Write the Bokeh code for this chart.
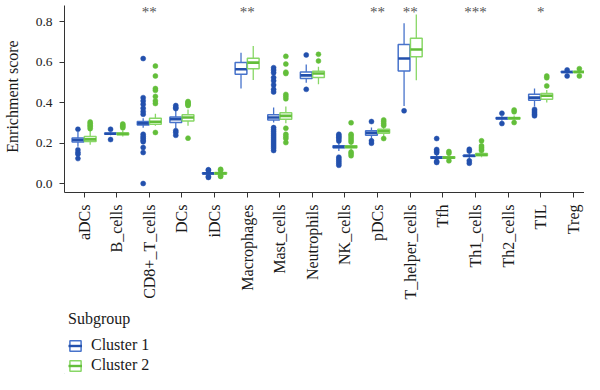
import math
from bokeh.plotting import figure
from bokeh.layouts import column
from bokeh.models import (Range1d, FixedTicker, PrintfTickFormatter, Legend,
                          LegendItem, ColumnDataSource)
from bokeh.core.properties import value
from bokeh.embed import file_html
from bokeh.resources import INLINE

# ---------------- data ----------------
categories = ["aDCs", "B_cells", "CD8+_T_cells", "DCs", "iDCs", "Macrophages",
              "Mast_cells", "Neutrophils", "NK_cells", "pDCs", "T_helper_cells",
              "Tfh", "Th1_cells", "Th2_cells", "TIL", "Treg"]
signif = ["", "", "**", "", "", "**", "", "", "", "**", "**", "", "***", "", "*", ""]
groups = ["Cluster 1", "Cluster 2"]

# Cluster 1
c1_lo  = [0.182, 0.238, 0.275, 0.270, 0.040, 0.469, 0.301, 0.498, 0.160, 0.219, 0.383, 0.115, 0.122, 0.310, 0.380, 0.545]
c1_q1  = [0.205, 0.243, 0.289, 0.301, 0.047, 0.539, 0.314, 0.518, 0.176, 0.238, 0.556, 0.125, 0.133, 0.318, 0.411, 0.548]
c1_med = [0.215, 0.246, 0.297, 0.318, 0.050, 0.564, 0.326, 0.534, 0.181, 0.250, 0.617, 0.128, 0.137, 0.322, 0.424, 0.551]
c1_q3  = [0.225, 0.250, 0.306, 0.329, 0.053, 0.597, 0.340, 0.551, 0.186, 0.260, 0.687, 0.132, 0.140, 0.326, 0.441, 0.553]
c1_hi  = [0.255, 0.255, 0.322, 0.360, 0.060, 0.646, 0.375, 0.588, 0.200, 0.276, 0.791, 0.142, 0.150, 0.335, 0.469, 0.556]
c1_out = [
    [0.268, 0.166, 0.153, 0.145, 0.123],
    [0.268, 0.217],
    [0.617, 0.424, 0.408, 0.391, 0.372, 0.355, 0.342, 0.243, 0.232, 0.224, 0.214, 0.206, 0.178, 0.153, 0.0],
    [0.385, 0.375, 0.370, 0.261, 0.252, 0.238],
    [0.068, 0.065, 0.035, 0.030],
    [],
    [0.572, 0.560, 0.547, 0.523, 0.507, 0.487, 0.465, 0.452, 0.276, 0.265, 0.255, 0.245, 0.235,
     0.225, 0.215, 0.205, 0.195, 0.185, 0.175, 0.163],
    [0.635, 0.465],
    [0.243, 0.235, 0.228, 0.220, 0.210, 0.130, 0.120, 0.110, 0.100, 0.090],
    [0.306, 0.211, 0.199],
    [0.359],
    [0.222, 0.168, 0.160, 0.152, 0.110, 0.104],
    [0.169, 0.160, 0.112, 0.100],
    [0.347, 0.296],
    [0.366, 0.358, 0.350, 0.342, 0.334],
    [0.561, 0.531],
]

# Cluster 2
c2_lo  = [0.192, 0.232, 0.285, 0.285, 0.042, 0.511, 0.297, 0.490, 0.160, 0.232, 0.510, 0.117, 0.130, 0.310, 0.400, 0.545]
c2_q1  = [0.207, 0.241, 0.293, 0.309, 0.047, 0.567, 0.317, 0.523, 0.176, 0.248, 0.626, 0.125, 0.137, 0.318, 0.416, 0.548]
c2_med = [0.218, 0.245, 0.305, 0.326, 0.050, 0.597, 0.334, 0.543, 0.181, 0.258, 0.662, 0.128, 0.142, 0.322, 0.433, 0.551]
c2_q3  = [0.232, 0.250, 0.322, 0.339, 0.054, 0.618, 0.349, 0.554, 0.186, 0.268, 0.717, 0.132, 0.148, 0.326, 0.445, 0.554]
c2_hi  = [0.260, 0.262, 0.345, 0.365, 0.062, 0.679, 0.380, 0.577, 0.200, 0.280, 0.835, 0.140, 0.155, 0.336, 0.462, 0.558]
c2_out = [
    [0.304, 0.296, 0.288, 0.280, 0.271],
    [0.294, 0.288, 0.281, 0.275],
    [0.580, 0.531, 0.469, 0.460, 0.430, 0.408, 0.395, 0.252],
    [0.405, 0.400, 0.395, 0.390, 0.385, 0.224],
    [0.070, 0.066, 0.038, 0.035],
    [],
    [0.628, 0.590, 0.550, 0.543, 0.440, 0.430, 0.418, 0.273, 0.243, 0.232, 0.222, 0.202],
    [0.638, 0.605],
    [0.300, 0.243, 0.235, 0.225, 0.215, 0.205, 0.155, 0.147, 0.137],
    [0.314, 0.305, 0.295, 0.287, 0.222],
    [],
    [0.158, 0.150, 0.112],
    [0.211, 0.186, 0.178, 0.170, 0.163],
    [0.363, 0.354, 0.301],
    [0.531, 0.522, 0.482],
    [0.567, 0.531],
]

y_ticks = [0.0, 0.2, 0.4, 0.6, 0.8]

# ---------------- style ----------------
FONT = "Liberation Serif"
BOX_W = 0.36
DODGE = 0.1875
STAR_Y = 0.848
BLUE_LINE, BLUE_DARK = "#4773CB", "#2350AD"
GREEN_LINE, GREEN_DARK = "#88D766", "#63BE3A"

p = figure(width=584, height=306, output_backend="svg", toolbar_location=None,
           x_range=Range1d(0.4, 16.345), y_range=Range1d(-0.0444, 0.9037),
           min_border_left=61, min_border_right=0, min_border_top=0,
           min_border_bottom=114)
p.outline_line_color = None
p.grid.visible = False
p.background_fill_color = "white"
p.border_fill_color = "white"


def draw(offset, lo, q1, med, q3, hi, outs, line_c, dark_c):
    xs = [i + 1 + offset for i in range(len(categories))]
    src = ColumnDataSource(dict(
        x=xs, xl=[x - BOX_W / 2 for x in xs], xr=[x + BOX_W / 2 for x in xs],
        lo=lo, q1=q1, med=med, q3=q3, hi=hi))
    p.segment(x0="x", y0="lo", x1="x", y1="q1", source=src,
              line_color=line_c, line_width=1.3)
    p.segment(x0="x", y0="q3", x1="x", y1="hi", source=src,
              line_color=line_c, line_width=1.3)
    p.vbar(x="x", width=BOX_W, bottom="q1", top="q3", source=src,
           fill_color="white", line_color=line_c, line_width=1.5)
    p.segment(x0="xl", y0="med", x1="xr", y1="med", source=src,
              line_color=dark_c, line_width=2.6)
    ox, oy = [], []
    for x, vals in zip(xs, outs):
        for v in vals:
            ox.append(x)
            oy.append(v)
    p.scatter(ox, oy, size=5, marker="circle", fill_color=dark_c,
              line_color=dark_c, line_width=0.5)


draw(-DODGE, c1_lo, c1_q1, c1_med, c1_q3, c1_hi, c1_out, BLUE_LINE, BLUE_DARK)
draw(DODGE, c2_lo, c2_q1, c2_med, c2_q3, c2_hi, c2_out, GREEN_LINE, GREEN_DARK)

# significance stars
p.text(x=[i + 1 for i in range(len(categories))], y=[STAR_Y] * len(categories),
       text=signif, text_font=value(FONT), text_font_size="15px",
       text_color="#555555", text_align="center", text_baseline="alphabetic")

# axes
xa = p.xaxis[0]
xa.ticker = FixedTicker(ticks=[i + 1 for i in range(len(categories))])
xa.major_label_overrides = {i + 1: c for i, c in enumerate(categories)}
xa.major_label_orientation = math.pi / 2
xa.major_label_text_font = FONT
xa.major_label_text_font_size = "16px"
xa.major_label_text_color = "#1a1a1a"
xa.major_label_standoff = 7
xa.minor_tick_line_color = None
xa.major_tick_in = 0
xa.major_tick_out = 5
xa.axis_line_color = "#333333"
xa.major_tick_line_color = "#333333"

ya = p.yaxis[0]
ya.ticker = FixedTicker(ticks=y_ticks)
ya.formatter = PrintfTickFormatter(format="%.1f")
ya.bounds = (-0.0444, 0.879)
ya.axis_label = "Enrichment score"
ya.axis_label_text_font = FONT
ya.axis_label_text_font_size = "16px"
ya.axis_label_text_font_style = "normal"
ya.axis_label_text_color = "#1a1a1a"
ya.axis_label_standoff = 12
ya.major_label_text_font = FONT
ya.major_label_text_font_size = "13.5px"
ya.major_label_text_color = "#222222"
ya.major_label_standoff = 7
ya.minor_tick_line_color = None
ya.major_tick_in = 0
ya.major_tick_out = 5
ya.axis_line_color = "#333333"
ya.major_tick_line_color = "#333333"

# ---------------- legend (separate strip below the plot) ----------------
q = figure(width=584, height=68, output_backend="svg", toolbar_location=None,
           x_axis_location=None, y_axis_location=None,
           x_range=Range1d(0, 1), y_range=Range1d(0, 1),
           min_border_left=0, min_border_right=0, min_border_top=0,
           min_border_bottom=0)
q.outline_line_color = None
q.grid.visible = False
q.border_fill_color = "white"
q.background_fill_color = "white"
items = []
for name, lc, dc in zip(groups, [BLUE_LINE, GREEN_LINE], [BLUE_DARK, GREEN_DARK]):
    # legend key proxies, kept outside the visible range of this strip
    rb = q.vbar(x=[-50], width=0.1, top=[-40], bottom=[-41], fill_color="white",
                line_color=lc, line_width=1.5)
    rm = q.segment(x0=[-50], y0=[-40], x1=[-49], y1=[-40], line_color=dc, line_width=2.4)
    items.append(LegendItem(label=name, renderers=[rb, rm]))

legend = Legend(
    items=items, title="Subgroup", location=(4, 0), orientation="vertical",
    title_text_font=FONT, title_text_font_size="16px", title_text_font_style="normal",
    title_text_color="#1a1a1a", title_standoff=8,
    label_text_font=FONT, label_text_font_size="16px", label_text_color="#1a1a1a",
    glyph_width=14, glyph_height=13, label_standoff=9, spacing=2,
    padding=0, margin=0, border_line_color=None, background_fill_alpha=0)
q.add_layout(legend)

layout = column(p, q, spacing=0)
open("out.html", "w").write(file_html(layout, INLINE))
